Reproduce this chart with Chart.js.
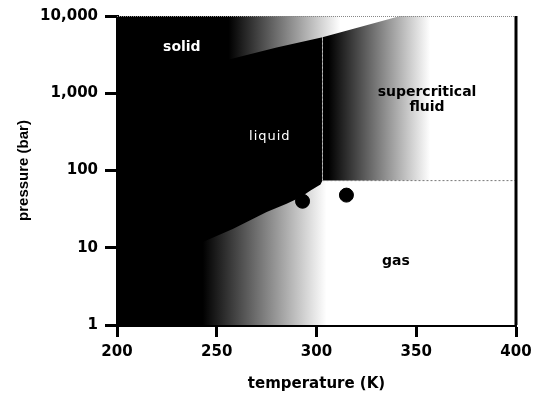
<!DOCTYPE html>
<html>
<head>
<meta charset="utf-8">
<title>CO2 phase diagram</title>
<script src="https://cdn.jsdelivr.net/npm/chart.js@4.4.1/dist/chart.umd.min.js"></script>
<style>
  html, body { margin:0; padding:0; background:#fff; }
</style>
</head>
<body>
<canvas id="phase" width="544" height="393"></canvas>
<script>
// sublimation curve (solid / gas)
const sublimT = [200, 208, 216.6];
const sublimP = [1.6, 3.0, 5.2];
// vapour pressure curve, triple point -> critical point (liquid / gas)
const vapourT = [216.6, 230, 245, 258, 275, 285, 292, 297, 302, 303];
const vapourP = [5.2, 8.5, 12.5, 17.5, 29, 37, 45, 55, 66, 74];
// melting curve (solid / liquid)
const meltT = [216.6, 222, 235, 256.6, 280, 303, 320, 342];
const meltP = [5.2, 600, 1500, 2750, 3900, 5300, 7000, 10000];
// critical point, and where the critical isotherm meets the melting curve
const critT = 303, critP = 74, critMeltP = 5300;
// the two marked states
const markT = [293, 315];
const markP = [40, 48];
// axes
const xTicks = [200, 250, 300, 350, 400];
const yTicks = [1, 10, 100, 1000, 10000];

function pts(ts, ps) {
  return ts.map((t, i) => ({x: t, y: ps[i]}));
}

const gasEdge = pts(sublimT, sublimP).concat(pts(vapourT, vapourP).slice(1), [{x: 400, y: critP}]);
const solidEdge = pts(sublimT, sublimP).concat(pts(meltT, meltP).slice(1));

// horizontal black -> white shading between two temperatures
function gradient(chart, from, to) {
  const x = chart.scales.x;
  const g = chart.ctx.createLinearGradient(x.getPixelForValue(from), 0, x.getPixelForValue(to), 0);
  g.addColorStop(0, '#000');
  g.addColorStop(1, '#fff');
  return g;
}
function shade(from, to) {
  return c => c.chart.chartArea ? gradient(c.chart, from, to) : '#000';
}

const regionText = [
  {text: 'solid', t: 232.5, p: 3900, color: '#fff', font: 'bold 14px "DejaVu Sans"', spacing: '0px'},
  {text: 'liquid', t: 276.6, p: 272, color: '#fff', font: '13px "DejaVu Sans"', spacing: '1px'},
  {text: 'supercritical', t: 355.4, p: 1030, color: '#000', font: 'bold 14px "DejaVu Sans"', spacing: '0px'},
  {text: 'fluid', t: 355.4, p: 664, color: '#000', font: 'bold 14px "DejaVu Sans"', spacing: '0px'},
  {text: 'gas', t: 339.8, p: 6.6, color: '#000', font: 'bold 14px "DejaVu Sans"', spacing: '0px'}
];

const phaseLabels = {
  id: 'phaseLabels',
  beforeDatasetsDraw(chart) {
    // gas shading under everything, so no seams show between regions
    const {ctx, chartArea: a} = chart;
    ctx.save();
    ctx.fillStyle = gradient(chart, 243, 305);
    ctx.fillRect(a.left, a.top, a.right - a.left, a.bottom - a.top);
    ctx.restore();
  },
  afterDatasetsDraw(chart) {
    const {ctx, chartArea: a, scales: {x, y}} = chart;
    ctx.save();
    // frame: dotted top edge, heavy right edge
    ctx.strokeStyle = '#888';
    ctx.lineWidth = 1;
    ctx.setLineDash([1, 1]);
    ctx.beginPath();
    ctx.moveTo(a.left, a.top + 0.5);
    ctx.lineTo(a.right, a.top + 0.5);
    ctx.stroke();
    ctx.setLineDash([]);
    ctx.strokeStyle = '#000';
    ctx.lineWidth = 3;
    ctx.beginPath();
    ctx.moveTo(a.right, a.top);
    ctx.lineTo(a.right, a.bottom);
    ctx.stroke();
    // region names
    ctx.textAlign = 'center';
    ctx.textBaseline = 'middle';
    regionText.forEach(r => {
      ctx.font = r.font;
      ctx.fillStyle = r.color;
      ctx.letterSpacing = r.spacing;
      ctx.fillText(r.text, x.getPixelForValue(r.t), y.getPixelForValue(r.p));
    });
    ctx.restore();
  }
};

const tickFont = {family: 'DejaVu Sans', size: 15, weight: 'bold'};

new Chart(document.getElementById('phase'), {
  type: 'line',
  data: {
    datasets: [
      {label: 'gas', data: gasEdge, fill: 'start', backgroundColor: shade(243, 305), order: 5},
      {label: 'supercritical fluid', data: [{x: critT, y: critP}, {x: 400, y: critP}], fill: 'end', backgroundColor: shade(306, 357), order: 4},
      {label: 'liquid', data: pts(vapourT, vapourP), fill: 'end', backgroundColor: '#000', order: 3},
      {label: 'solid', data: solidEdge, fill: 'end', backgroundColor: shade(256, 312), order: 2},
      {label: 'critical isobar', data: [{x: critT, y: critP}, {x: 400, y: critP}], fill: false,
       borderColor: '#777', borderWidth: 1, borderDash: [2, 2], order: 1},
      {label: 'critical isotherm', data: [{x: critT, y: critP}, {x: critT, y: critMeltP}], fill: false,
       borderColor: '#bbb', borderWidth: 1, borderDash: [2, 2], order: 1},
      {label: 'states', data: pts(markT, markP), showLine: false, fill: false,
       pointRadius: 7, pointBackgroundColor: '#000', pointBorderColor: '#000', order: 0}
    ]
  },
  options: {
    responsive: false,
    animation: false,
    devicePixelRatio: 1,
    layout: {padding: {top: 11, right: 28, left: 0, bottom: 0}},
    plugins: {legend: {display: false}, tooltip: {enabled: false}},
    elements: {
      line: {tension: 0, borderWidth: 0, borderColor: 'rgba(0,0,0,0)'},
      point: {radius: 0}
    },
    scales: {
      x: {
        type: 'linear', min: 200, max: 400,
        afterBuildTicks: s => { s.ticks = xTicks.map(v => ({value: v})); },
        afterFit: s => { s.height = 68; },
        border: {display: true, color: '#000', width: 3},
        grid: {drawOnChartArea: false, drawTicks: true, tickLength: 12, tickWidth: 3, tickColor: '#000'},
        ticks: {color: '#000', padding: 6, font: tickFont},
        title: {display: true, text: 'temperature (K)', color: '#000', padding: {top: 0, bottom: 0},
                font: {family: 'DejaVu Sans', size: 15, weight: 'bold'}}
      },
      y: {
        type: 'logarithmic', min: 1, max: 10000,
        afterBuildTicks: s => { s.ticks = yTicks.map(v => ({value: v})); },
        afterFit: s => { s.width = 117; },
        border: {display: true, color: '#000', width: 3},
        grid: {drawOnChartArea: false, drawTicks: true, tickLength: 12, tickWidth: 3, tickColor: '#000'},
        ticks: {color: '#000', padding: 7, font: tickFont,
                callback: v => Number(v).toLocaleString('en-US')},
        title: {display: true, text: 'pressure (bar)', color: '#000', padding: {top: 15, bottom: 0},
                font: {family: 'Liberation Sans', size: 15, weight: 'bold'}}
      }
    }
  },
  plugins: [phaseLabels]
});
</script>
</body>
</html>
